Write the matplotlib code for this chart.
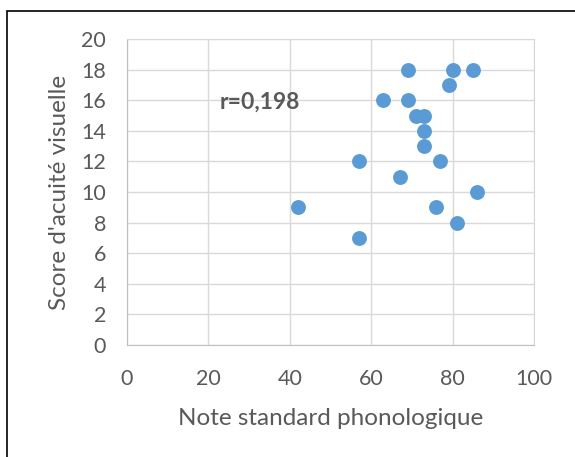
import matplotlib.pyplot as plt
from matplotlib.patches import Rectangle

# Donnees
note_phono = [42, 57, 57, 63, 67, 69, 69, 71, 73, 73, 73, 76, 77, 79, 80, 81, 85, 86]
score_acuite = [9, 12, 7, 16, 11, 18, 16, 15, 15, 14, 13, 9, 12, 17, 18, 8, 18, 10]
x_ticks = [0, 20, 40, 60, 80, 100]
y_ticks = [0, 2, 4, 6, 8, 10, 12, 14, 16, 18, 20]

gris = "#595959"
plt.rcParams['font.family'] = ['Lato', 'DejaVu Sans']

fig = plt.figure(figsize=(5.75, 4.57), dpi=100)
ax = fig.add_axes([127/575, 1 - 345/457, (534 - 127)/575, (345 - 39)/457])

# cadre noir autour du graphique
fig.patches.append(Rectangle((7/575, -0.1), 1.2, 1 - 11/457 + 0.1, transform=fig.transFigure,
                             fill=False, edgecolor="black", linewidth=1.2))

ax.scatter(note_phono, score_acuite, s=115, color="#5b9bd5", zorder=3, linewidths=0)

ax.set_xlim(0, 100)
ax.set_ylim(0, 20)
ax.set_xticks(x_ticks)
ax.set_yticks(y_ticks)
ax.grid(True, color="#d9d9d9", linewidth=1)
for s in ax.spines.values():
    s.set_color("#d9d9d9")
ax.spines['left'].set_color("#bfbfbf")
ax.spines['bottom'].set_color("#bfbfbf")
ax.tick_params(length=0, labelsize=15.5, labelcolor=gris)
ax.tick_params(axis='y', pad=15)
ax.tick_params(axis='x', pad=17)

ax.set_xlabel("Note standard phonologique", fontsize=17.5, color=gris, labelpad=14)
ax.set_ylabel("Score d'acuité visuelle", fontsize=17.5, color=gris, labelpad=8)

ax.text(32.7, 15.9, "r=0,198", fontsize=16.5, fontweight="bold", color=gris,
        ha="center", va="center")

fig.savefig("out.png", dpi=100)
